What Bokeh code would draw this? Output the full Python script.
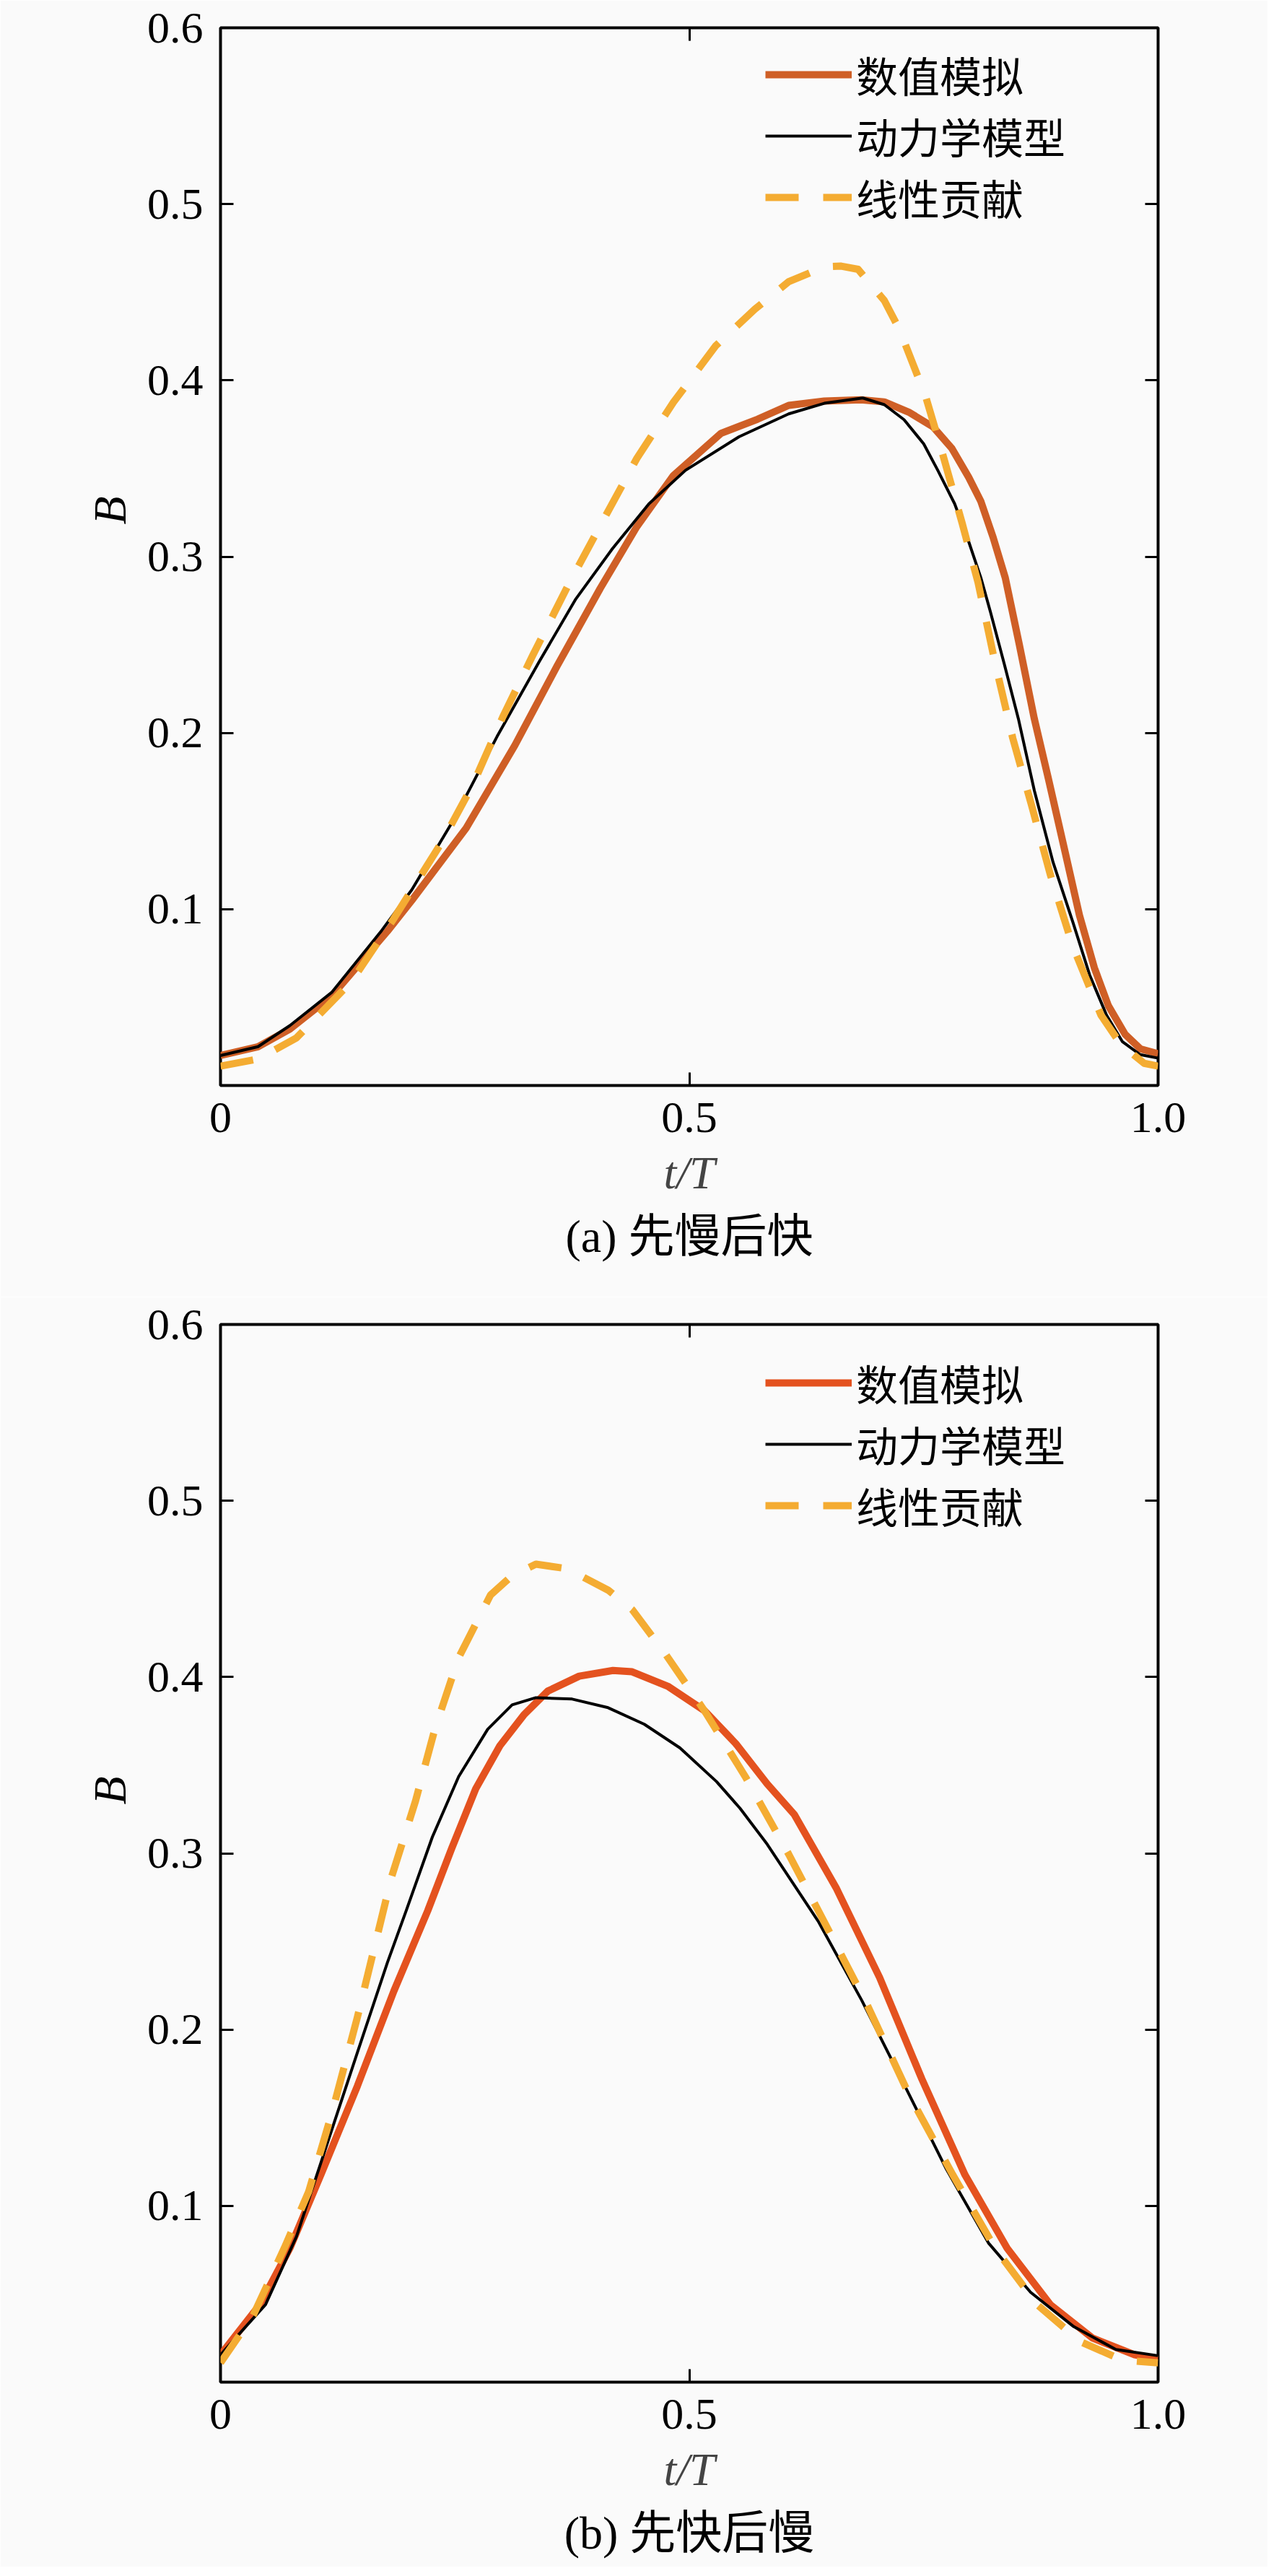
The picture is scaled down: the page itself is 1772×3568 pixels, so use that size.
from bokeh.plotting import figure
from bokeh.models import Range1d, FixedTicker, LinearAxis, Title, Legend, LegendItem
from bokeh.core.properties import value
from bokeh.layouts import column
from bokeh.embed import file_html
from bokeh.resources import INLINE

# ---------------- data ----------------
x_ticks = [0, 0.5, 1.0]
x_tick_labels = {0: "0", 0.5: "0.5", 1: "1.0"}
y_ticks = [0.1, 0.2, 0.3, 0.4, 0.5, 0.6]

series_names = ["数值模拟", "动力学模型", "线性贡献"]
x_label = "t/T"
y_label = "B"
captions = ["(a) 先慢后快", "(b) 先快后慢"]

# (a) slow first, fast later
num_a_t = [0, 0.04, 0.074, 0.119, 0.178, 0.204, 0.262, 0.314, 0.359, 0.405, 0.444, 0.483, 0.534, 0.573,
           0.606, 0.644, 0.683, 0.708, 0.734, 0.760, 0.780, 0.798, 0.811, 0.824, 0.837, 0.852, 0.868,
           0.883, 0.901, 0.916, 0.932, 0.947, 0.965, 0.981, 1.0]
num_a_B = [0.017, 0.022, 0.032, 0.051, 0.0875, 0.105, 0.146, 0.193, 0.238, 0.282, 0.317, 0.346, 0.370, 0.378,
           0.3858, 0.3883, 0.389, 0.3878, 0.382, 0.3736, 0.3614, 0.345, 0.3313, 0.311, 0.288, 0.250, 0.208,
           0.174, 0.132, 0.0968, 0.0668, 0.0452, 0.0289, 0.0208, 0.018]

dyn_a_t = [0, 0.04, 0.074, 0.119, 0.172, 0.204, 0.249, 0.295, 0.340, 0.379, 0.418, 0.457, 0.496, 0.553,
           0.606, 0.644, 0.685, 0.708, 0.729, 0.750, 0.765, 0.783, 0.798, 0.811, 0.821, 0.836, 0.851,
           0.868, 0.888, 0.909, 0.927, 0.945, 0.962, 0.981, 1.0]
dyn_a_B = [0.017, 0.022, 0.034, 0.053, 0.088, 0.111, 0.151, 0.198, 0.2405, 0.276, 0.3045, 0.330, 0.349, 0.368,
           0.381, 0.387, 0.390, 0.3862, 0.3777, 0.364, 0.349, 0.330, 0.3085, 0.288, 0.269, 0.239, 0.208,
           0.1673, 0.1266, 0.0928, 0.0627, 0.0399, 0.0248, 0.0175, 0.0155]

lin_a_t = [0, 0.04, 0.081, 0.139, 0.184, 0.236, 0.269, 0.301, 0.333, 0.372, 0.405, 0.444, 0.483, 0.528,
           0.570, 0.606, 0.644, 0.662, 0.680, 0.708, 0.724, 0.742, 0.752, 0.770, 0.791, 0.808, 0.826,
           0.845, 0.865, 0.885, 0.909, 0.939, 0.960, 0.985, 1.0]
lin_a_B = [0.011, 0.015, 0.027, 0.0585, 0.094, 0.138, 0.1705, 0.209, 0.244, 0.285, 0.3175, 0.3557, 0.3875, 0.4195,
           0.4404, 0.456, 0.4644, 0.4648, 0.463, 0.4453, 0.429, 0.4046, 0.391, 0.3586, 0.319, 0.2853, 0.2400,
           0.197, 0.159, 0.1197, 0.079, 0.040, 0.0235, 0.0126, 0.011]

# (b) fast first, slow later
num_b_t = [0, 0.042, 0.074, 0.107, 0.146, 0.185, 0.221, 0.2466, 0.2722, 0.298, 0.3235, 0.349, 0.3826,
           0.4186, 0.439, 0.477, 0.516, 0.5496, 0.583, 0.612, 0.657, 0.703, 0.748, 0.794, 0.839, 0.885,
           0.930, 0.975, 1.0]
num_b_B = [0.0155, 0.044, 0.076, 0.1176, 0.168, 0.222, 0.2674, 0.3028, 0.3366, 0.361, 0.3785, 0.392, 0.4005,
           0.4037, 0.403, 0.3948, 0.381, 0.3622, 0.3394, 0.322, 0.280, 0.2295, 0.172, 0.1176, 0.076, 0.044,
           0.025, 0.0155, 0.013]

dyn_b_t = [0, 0.048, 0.081, 0.113, 0.146, 0.178, 0.198, 0.226, 0.254, 0.285, 0.311, 0.3364, 0.375, 0.4134,
           0.452, 0.490, 0.529, 0.554, 0.583, 0.638, 0.684, 0.729, 0.774, 0.819, 0.864, 0.910, 0.955, 1.0]
dyn_b_B = [0.0155, 0.044, 0.0826, 0.134, 0.187, 0.238, 0.2674, 0.3093, 0.3435, 0.3704, 0.3842, 0.3883, 0.3875,
           0.3826, 0.3732, 0.3598, 0.3407, 0.3256, 0.3052, 0.261, 0.2165, 0.169, 0.121, 0.079, 0.051, 0.0315,
           0.0185, 0.015]

lin_b_t = [0, 0.035, 0.068, 0.094, 0.119, 0.146, 0.1824, 0.208, 0.2286, 0.254, 0.288, 0.311, 0.3364, 0.3695,
           0.4134, 0.439, 0.475, 0.516, 0.5597, 0.606, 0.644, 0.690, 0.735, 0.781, 0.826, 0.871, 0.917,
           0.962, 1.0]
lin_b_B = [0.011, 0.038, 0.076, 0.108, 0.153, 0.207, 0.2865, 0.3297, 0.3704, 0.411, 0.4465, 0.4575, 0.464, 0.4615,
           0.4493, 0.4383, 0.4127, 0.381, 0.3435, 0.2995, 0.261, 0.2137, 0.1624, 0.1176, 0.076, 0.044, 0.023,
           0.0125, 0.011]

# ---------------- style ----------------
BG = "#fafafa"
SERIF = "Liberation Serif"
CJK = "Noto Sans CJK SC"
MIXED = "'Liberation Serif', 'Noto Sans CJK SC'"
DYN_COLOR = "black"
LIN_COLOR = "#f4ac32"


def style_axis(ax, show_labels=True):
    ax.axis_line_color = None
    ax.major_tick_in = 18
    ax.major_tick_out = 0
    ax.minor_tick_in = 0
    ax.minor_tick_out = 0
    ax.major_tick_line_width = 3
    ax.major_tick_line_color = "black"
    if show_labels:
        ax.major_label_text_font = SERIF
        ax.major_label_text_font_size = "62px"
        ax.major_label_text_color = "black"
    else:
        ax.major_label_text_font_size = "0px"
        ax.major_label_text_color = None
        ax.major_label_standoff = 0


def make_panel(nt, nB, dt, dB, lt, lB, num_color, caption, top_b, bottom_b, legend_ys, ylab_offset):
    p = figure(frame_width=1299, frame_height=1465,
               x_range=Range1d(0, 1), y_range=Range1d(0, 0.6),
               output_backend="svg", toolbar_location=None,
               min_border_left=305, min_border_right=152,
               min_border_top=top_b, min_border_bottom=bottom_b,
               background_fill_color=BG, border_fill_color=BG,
               outline_line_color="black", outline_line_width=4)
    p.grid.visible = False

    r_num = p.line(nt, nB, line_color=num_color, line_width=10, line_join="round")
    r_dyn = p.line(dt, dB, line_color=DYN_COLOR, line_width=4, line_join="round")
    r_lin = p.line(lt, lB, line_color=LIN_COLOR, line_width=10, line_dash="46 34", line_join="round")

    xa = p.xaxis[0]
    xa.ticker = FixedTicker(ticks=x_ticks)
    xa.major_label_overrides = x_tick_labels
    style_axis(xa)
    xa.major_label_standoff = 24
    xa.axis_label = x_label
    xa.axis_label_text_font = SERIF
    xa.axis_label_text_font_style = "italic"
    xa.axis_label_text_font_size = "64px"
    xa.axis_label_standoff = 18

    ya = p.yaxis[0]
    ya.ticker = FixedTicker(ticks=y_ticks)
    style_axis(ya)
    ya.major_label_standoff = 24

    # y-axis title as a side title, offset from the bottom of the frame
    p.add_layout(Title(text=y_label, align="left", offset=ylab_offset,
                       text_font=SERIF, text_font_style="italic",
                       text_font_size="64px", text_color="black", standoff=26), "left")

    ra = LinearAxis(ticker=FixedTicker(ticks=y_ticks))
    style_axis(ra, show_labels=False)
    p.add_layout(ra, "right")
    ta = LinearAxis(ticker=FixedTicker(ticks=x_ticks))
    style_axis(ta, show_labels=False)
    p.add_layout(ta, "above")

    p.add_layout(Title(text=caption, align="center", text_font=MIXED,
                       text_font_size="64px", text_font_style="normal",
                       text_color="black", standoff=24), "below")

    for r, name, ly in zip([r_num, r_dyn, r_lin], series_names, legend_ys):
        lg = Legend(items=[LegendItem(label=value(name), renderers=[r])],
                    location=(755, ly), padding=0, margin=0, spacing=0,
                    border_line_color=None, background_fill_alpha=0,
                    glyph_width=120, glyph_height=80, label_height=80,
                    label_standoff=6, label_text_font=CJK,
                    label_text_font_size="58px", label_text_color="black")
        p.add_layout(lg)
    return p


p1 = make_panel(num_a_t, num_a_B, dyn_a_t, dyn_a_B, lin_a_t, lin_a_B, "#cf5f26",
                captions[0], 38, 293, [1358, 1273, 1188], 777)
p2 = make_panel(num_b_t, num_b_B, dyn_b_t, dyn_b_B, lin_b_t, lin_b_B, "#e4521f",
                captions[1], 38, 253, [1342, 1257, 1172], 800)

layout = column(p1, p2, spacing=0)
open("out.html", "w").write(file_html(layout, INLINE))
